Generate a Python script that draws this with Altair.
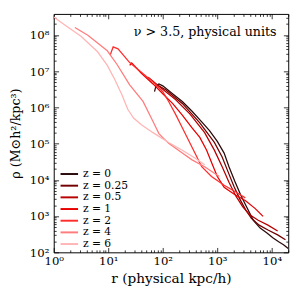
import altair as alt
import pandas as pd

labels = ["z = 0", "z = 0.25", "z = 0.5", "z = 1", "z = 2", "z = 4", "z = 6"]
colors = ["#2b0b0b", "#730000", "#b80000", "#e80000", "#ff2e2e", "#ff7c7c", "#ffb5b5"]

r_z0 = [70.5, 75, 84.9, 100, 151, 228, 344, 518, 719, 1000, 1334, 1637, 2094, 2685, 3436,
        4581, 6109, 8147, 10420, 13340, 16370, 20000]
rho_z0 = [2.71e6, 3.93e6, 4.45e6, 3.93e6, 2.39e6, 1.46e6, 7.85e5, 3.97e5, 2.28e5, 1.15e5,
          5.48e4, 2.31e4, 9.12e3, 3.83e3, 1.82e3, 766, 467, 343, 251, 196, 163, 127]

r_z025 = [78.2, 113, 228, 478, 883, 1227, 1570, 2014, 2576, 3296, 4217, 5861, 8492, 12790, 17780]
rho_z025 = [4.18e6, 3.06e6, 1.29e6, 3.73e5, 1.08e5, 4.29e4, 1.69e4, 6.68e3, 2.99e3, 1.51e3,
            867, 562, 412, 303, 222]

r_z05 = [54, 92, 171, 316, 586, 883, 1227, 1637, 2183, 2911, 3882, 5623, 8492, 12790]
rho_z05 = [6.85e6, 3.47e6, 1.65e6, 6.52e5, 2.01e5, 6.61e4, 2.31e4, 8.57e3, 3.6e3, 1.82e3,
           1.11e3, 766, 562, 388]

r_z1 = [24.7, 26.9, 40.5, 66.2, 100, 151, 228, 344, 478, 637, 815, 1000, 1334, 2014, 3296,
        4966, 6902]
rho_z1 = [1.44e7, 1.68e7, 8.77e6, 4.45e6, 2.39e6, 1.29e6, 6.12e5, 2.74e5, 1.48e5, 6.61e4,
          2.61e4, 1.24e4, 6.28e3, 4.07e3, 2.64e3, 1.61e3, 982]

r_z2 = [10.9, 12.3, 15.1, 24.7, 40.5, 66.2, 100, 128, 171, 228, 344, 518, 782, 1334, 2183, 3258]
rho_z2 = [2.84e7, 4.67e7, 4.12e7, 1.73e7, 9.33e6, 5.02e6, 2.71e6, 1.46e6, 6.52e5, 2.74e5,
          7.94e4, 2.31e4, 1.24e4, 7.11e3, 4.61e3, 3.18e3]

r_z4 = [2.44, 4.22, 6.37, 9.6, 14.5, 24.7, 43.4, 65.5, 84.9, 128, 228, 344, 586, 1086]
rho_z4 = [1.61e8, 9.8e7, 5.98e7, 3.65e7, 1.53e7, 4.18e6, 1.46e6, 4.23e5, 1.89e5, 1.02e5,
          5.48e4, 3.56e4, 2.31e4, 1.24e4]

r_z6 = [1, 1.62, 3.16, 6.37, 9.6, 13.3, 17.8, 22.8, 29.1, 40.5, 66.2, 128, 228, 388, 586]
rho_z6 = [3.12e8, 1.86e8, 9.2e7, 3.43e7, 1.44e7, 5.69e6, 2.25e6, 8.9e5, 5.09e5, 3.30e5,
          2.01e5, 1.08e5, 6.6e4, 4.03e4, 2.61e4]

x_major = [1, 10, 100, 1000, 10000]
x_minor = [m * d for d in [1, 10, 100, 1000] for m in range(2, 10)] + [20000]
y_major = [1e2, 1e3, 1e4, 1e5, 1e6, 1e7, 1e8]
y_minor = [m * d for d in [1e2, 1e3, 1e4, 1e5, 1e6, 1e7] for m in range(2, 10)] + [2e8, 3e8]

annotation = "ν > 3.5,  physical units"

series = [(labels[0], r_z0, rho_z0), (labels[1], r_z025, rho_z025), (labels[2], r_z05, rho_z05),
          (labels[3], r_z1, rho_z1), (labels[4], r_z2, rho_z2), (labels[5], r_z4, rho_z4),
          (labels[6], r_z6, rho_z6)]
rows = []
for lab, rs, rhos in series:
    for i, (a, b) in enumerate(zip(rs, rhos)):
        rows.append({"z": lab, "r": a, "rho": b, "i": i})
df = pd.DataFrame(rows)

FONT = "DejaVu Serif"
xs = alt.Scale(type="log", domain=[1, 20000], nice=False)
ys = alt.Scale(type="log", domain=[100, 3.8e8], nice=False)
sup = "['⁰','¹','²','³','⁴','⁵','⁶','⁷','⁸'][round(log(datum.value)/LN10)]"

lines = alt.Chart(df).mark_line(strokeWidth=1.3, clip=True).encode(
    x=alt.X("r:Q", scale=xs, axis=alt.Axis(
        values=x_major, labelExpr="'10' + " + sup, ticks=False, domain=False, grid=False,
        labelFont=FONT, labelFontSize=12, labelColor="black", labelPadding=4,
        labelFlush=False, labelOverlap=False,
        title="r (physical kpc/h)", titleFont=FONT, titleFontSize=14,
        titleFontWeight="normal", titleColor="black", titlePadding=5)),
    y=alt.Y("rho:Q", scale=ys, axis=alt.Axis(
        values=y_major, labelExpr="'10' + " + sup, ticks=False, domain=False, grid=False,
        labelFont=FONT, labelFontSize=12, labelColor="black", labelPadding=5,
        labelFlush=False, labelOverlap=False,
        title="ρ (M⊙h²/kpc³)", titleFont=FONT, titleFontSize=13,
        titleFontWeight="normal", titleColor="black", titlePadding=7)),
    color=alt.Color("z:N", scale=alt.Scale(domain=labels, range=colors), legend=alt.Legend(
        orient="none", legendX=10.5, legendY=159, title=None, padding=0,
        symbolType="M-2,0L2,0", symbolSize=81, symbolStrokeWidth=2, labelOffset=8.5,
        labelFont=FONT, labelFontSize=11, labelColor="black", rowPadding=0)),
    order="i:Q",
)


def tick_layer(xorient, yorient, xvals, yvals, size):
    return alt.Chart(df).mark_line(opacity=0).encode(
        x=alt.X("r:Q", scale=xs, axis=alt.Axis(
            orient=xorient, offset=-size, tickSize=size, values=xvals, labels=False,
            domain=False, grid=False, title=None, tickColor="black", tickWidth=0.8)),
        y=alt.Y("rho:Q", scale=ys, axis=alt.Axis(
            orient=yorient, offset=-size, tickSize=size, values=yvals, labels=False,
            domain=False, grid=False, title=None, tickColor="black", tickWidth=0.8)),
        detail="z:N",
    )


text = alt.Chart(pd.DataFrame({"t": [annotation]})).mark_text(
    align="right", baseline="middle", font=FONT, fontSize=13, color="black"
).encode(text="t:N", x=alt.value(229), y=alt.value(19))

chart = alt.layer(
    lines,
    tick_layer("bottom", "left", x_major, y_major, 5),
    tick_layer("bottom", "left", x_minor, y_minor, 2.5),
    tick_layer("top", "right", x_major, y_major, 5),
    tick_layer("top", "right", x_minor, y_minor, 2.5),
    text,
).resolve_axis(x="independent", y="independent").properties(
    width=241, height=245, autosize="none",
    padding={"left": 47, "top": 2, "right": 9, "bottom": 49},
).configure_view(stroke="black", strokeWidth=1)

chart.save("out.html", embed_options={"renderer": "svg", "actions": False})
